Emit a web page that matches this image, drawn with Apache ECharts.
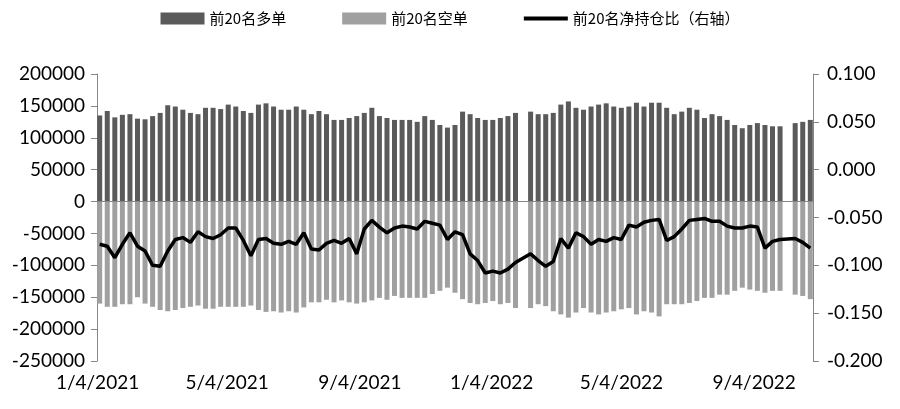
<!DOCTYPE html>
<html>
<head>
<meta charset="utf-8">
<script src="https://cdn.jsdelivr.net/npm/echarts@6/dist/echarts.min.js"></script>
<style>
  html, body { margin: 0; padding: 0; background: #fff; }
  #chart { width: 900px; height: 409px; }
</style>
</head>
<body>
<div id="chart"></div>
<script>
// weekly readings, one per trading week starting Mon 2021-01-04 (null = holiday week)
const firstDay = "2021-01-04";
const lastDay = "2022-10-28";
const seriesNames = ["前20名多单", "前20名空单", "前20名净持仓比（右轴）"];

const longPos = [
  135000, 142000, 132000, 136000, 137000, 130000, 129000, 134000, 139000, 151000,
  149000, 144000, 139000, 137000, 147000, 147000, 145000, 152000, 149000, 142000,
  139000, 152000, 154000, 149000, 144000, 144000, 149000, 144000, 137000, 142000,
  137000, 128000, 128000, 131000, 134000, 139000, 147000, 134000, 131000, 128000,
  128000, 128000, 125000, 134000, 128000, 120000, 116000, 120000, 141000, 137000,
  131000, 128000, 128000, 131000, 134000, 139000, null, 141000, 137000, 137000,
  139000, 152000, 157000, 147000, 144000, 149000, 152000, 154000, 149000, 147000,
  149000, 155000, 149000, 155000, 155000, 147000, 137000, 141000, 147000, 144000,
  131000, 137000, 134000, 128000, 120000, 115000, 120000, 123000, 120000, 118000,
  118000, null, 123000, 125000, 128000
];

const shortPos = [
  -160000, -165000, -165000, -161000, -161000, -150000, -160000, -165000, -170000, -172000,
  -170000, -167000, -165000, -163000, -168000, -168000, -165000, -165000, -165000, -165000,
  -163000, -170000, -173000, -172000, -174000, -172000, -174000, -166000, -158000, -158000,
  -154000, -158000, -155000, -158000, -160000, -158000, -155000, -151000, -154000, -148000,
  -151000, -151000, -151000, -151000, -145000, -140000, -135000, -143000, -153000, -159000,
  -161000, -159000, -156000, -161000, -159000, -167000, null, -167000, -161000, -164000,
  -172000, -177000, -182000, -174000, -167000, -174000, -177000, -174000, -172000, -169000,
  -167000, -177000, -172000, -174000, -180000, -161000, -161000, -161000, -159000, -156000,
  -151000, -151000, -146000, -146000, -140000, -135000, -138000, -140000, -143000, -140000,
  -140000, null, -146000, -148000, -153000
];

const netRatio = [
  -0.078, -0.080, -0.092, -0.078, -0.066, -0.080, -0.085, -0.100, -0.101, -0.085,
  -0.073, -0.071, -0.076, -0.065, -0.070, -0.072, -0.068, -0.061, -0.061, -0.074,
  -0.090, -0.073, -0.072, -0.077, -0.078, -0.075, -0.078, -0.066, -0.083, -0.084,
  -0.077, -0.074, -0.077, -0.072, -0.088, -0.062, -0.053, -0.060, -0.066, -0.061,
  -0.059, -0.060, -0.062, -0.054, -0.056, -0.058, -0.073, -0.065, -0.068, -0.088,
  -0.095, -0.108, -0.106, -0.108, -0.104, -0.097, null, -0.088, -0.095, -0.101,
  -0.096, -0.072, -0.082, -0.066, -0.070, -0.078, -0.073, -0.075, -0.071, -0.073,
  -0.058, -0.060, -0.055, -0.053, -0.052, -0.074, -0.070, -0.062, -0.053, -0.052,
  -0.051, -0.054, -0.054, -0.059, -0.061, -0.061, -0.059, -0.060, -0.082, -0.075,
  -0.073, null, -0.072, -0.076, -0.082
];

// daily category axis so that labels can sit on 1/4, 5/4, 9/4
const days = [];
const dayMonth = [];
{
  const d = new Date(firstDay + "T00:00:00");
  const end = new Date(lastDay + "T00:00:00");
  while (d <= end) {
    days.push((d.getMonth() + 1) + "/" + d.getDate() + "/" + d.getFullYear());
    dayMonth.push([d.getMonth() + 1, d.getDate()]);
    d.setDate(d.getDate() + 1);
  }
}

// each weekly value is drawn on the Wednesday of its week
function toDaily(weekly) {
  const out = days.map(() => null);
  weekly.forEach((v, w) => {
    const idx = w * 7 + 2;
    if (idx < out.length) out[idx] = v;
  });
  return out;
}

const font = "Lato, 'Noto Sans CJK SC', sans-serif";
const axisGray = "#868686";

const chart = echarts.init(document.getElementById("chart"));
chart.setOption({
  animation: false,
  backgroundColor: "#fff",
  textStyle: { fontFamily: font },
  legend: {
    top: 6,
    left: "center",
    itemGap: 56,
    itemWidth: 44,
    itemHeight: 12,
    textStyle: { fontSize: 15, color: "#000", fontFamily: "'Noto Sans CJK SC', sans-serif" },
    data: [
      { name: seriesNames[0], icon: "rect" },
      { name: seriesNames[1], icon: "rect" },
      { name: seriesNames[2], icon: "path://M0 0H44V4H0Z" }
    ]
  },
  grid: { left: 97, right: 87, top: 74, bottom: 48 },
  xAxis: {
    type: "category",
    data: days,
    axisLine: { show: false },
    axisTick: { show: false },
    axisLabel: {
      color: "#000",
      fontSize: 19,
      margin: 12,
      interval: (i) => {
        const [m, dd] = dayMonth[i];
        return dd === 4 && (m === 1 || m === 5 || m === 9);
      }
    }
  },
  yAxis: [
    {
      type: "value",
      min: -250000,
      max: 200000,
      interval: 50000,
      splitLine: { show: false },
      axisLine: { show: true, lineStyle: { color: axisGray } },
      axisTick: { show: true, length: 6, lineStyle: { color: axisGray } },
      axisLabel: { color: "#000", fontSize: 19, margin: 12, formatter: (v) => String(v) }
    },
    {
      type: "value",
      position: "right",
      min: -0.2,
      max: 0.1,
      interval: 0.05,
      splitLine: { show: false },
      axisLine: { show: true, lineStyle: { color: axisGray } },
      axisTick: { show: true, length: 6, lineStyle: { color: axisGray } },
      axisLabel: { color: "#000", fontSize: 19, margin: 14, formatter: (v) => v.toFixed(3) }
    }
  ],
  series: [
    {
      name: seriesNames[0],
      type: "bar",
      data: toDaily(longPos),
      barWidth: 5,
      barGap: "-100%",
      itemStyle: { color: "#5a5a5a" },
      markLine: {
        silent: true,
        symbol: "none",
        label: { show: false },
        lineStyle: { color: axisGray, width: 1, type: "solid" },
        data: [{ yAxis: 0 }]
      }
    },
    {
      name: seriesNames[1],
      type: "bar",
      data: toDaily(shortPos),
      barWidth: 5,
      barGap: "-100%",
      itemStyle: { color: "#a0a0a0" }
    },
    {
      name: seriesNames[2],
      type: "line",
      yAxisIndex: 1,
      data: toDaily(netRatio),
      connectNulls: true,
      symbol: "none",
      z: 5,
      lineStyle: { color: "#000", width: 3.5 },
      itemStyle: { color: "#000" }
    }
  ]
});
</script>
</body>
</html>
